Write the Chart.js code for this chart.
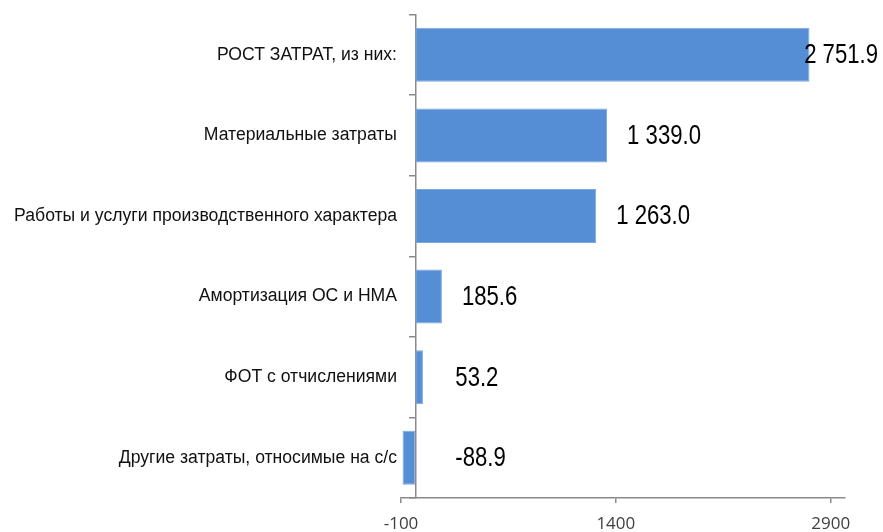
<!DOCTYPE html>
<html>
<head>
<meta charset="utf-8">
<script src="https://cdn.jsdelivr.net/npm/chart.js@4.4.1/dist/chart.umd.min.js"></script>
<style>
  html, body { margin: 0; padding: 0; background: #fff; }
  #wrap { width: 883px; height: 532px; }
</style>
</head>
<body>
<div id="wrap"><canvas id="costChart" width="883" height="532"></canvas></div>
<script>
// Data
const categories = [
  'РОСТ ЗАТРАТ, из них:',
  'Материальные затраты',
  'Работы и услуги производственного характера',
  'Амортизация ОС и НМА',
  'ФОТ с отчислениями',
  'Другие затраты, относимые на с/с'
];
const values = [2751.9, 1339.0, 1263.0, 185.6, 53.2, -88.9];
const xTicks = [-100, 1400, 2900];

const sans = "'Liberation Sans', Arial, sans-serif";
const axisGray = '#8a8a8a';

// "2 751.9" style
function fmt(v) {
  const s = Math.abs(v).toFixed(1).split('.');
  const int = s[0].replace(/\B(?=(\d{3})+(?!\d))/g, ' ');
  return (v < 0 ? '-' : '') + int + '.' + s[1];
}

// value labels to the right of bars (squeezed a bit, like a narrow font)
const valueLabels = {
  id: 'valueLabels',
  afterDatasetsDraw(chart) {
    const ctx = chart.ctx;
    const meta = chart.getDatasetMeta(0);
    const squeeze = 0.82;
    ctx.save();
    ctx.font = '27px ' + sans;
    ctx.fillStyle = '#000';
    ctx.textBaseline = 'middle';
    ctx.textAlign = 'left';
    meta.data.forEach((bar, i) => {
      const txt = fmt(values[i]);
      const w = ctx.measureText(txt).width * squeeze;
      let x = Math.max(Math.max(bar.x, bar.base) + 20, bar.base + 40);
      if (x + w > chart.width - 5) x = chart.width - 5 - w;
      ctx.save();
      ctx.translate(x, bar.y + 1);
      ctx.scale(squeeze, 1);
      ctx.fillText(txt, 0, 0);
      ctx.restore();
    });
    ctx.restore();
  }
};

new Chart(document.getElementById('costChart'), {
  type: 'bar',
  data: {
    labels: categories,
    datasets: [{
      data: values,
      backgroundColor: '#558ed5',
      borderColor: '#7aa7de',
      borderWidth: 1,
      borderSkipped: false,
      categoryPercentage: 1,
      barPercentage: 0.67
    }]
  },
  options: {
    indexAxis: 'y',
    responsive: false,
    animation: false,
    layout: { padding: { left: 0, right: 38, top: 13, bottom: 0 } },
    plugins: {
      legend: { display: false },
      tooltip: { enabled: false }
    },
    scales: {
      x: {
        min: -100,
        max: 3000,
        afterBuildTicks: s => { s.ticks = xTicks.map(v => ({ value: v })); },
        afterFit: s => { s.height = 34; },
        grid: { drawOnChartArea: false, tickLength: 5, color: axisGray, lineWidth: 1.5 },
        border: { color: axisGray, width: 1.5 },
        ticks: {
          padding: 11,
          color: '#404040',
          font: { family: "'Open Sans', sans-serif", size: 17 },
          maxRotation: 0,
          callback: v => String(v)
        }
      },
      y: {
        afterFit: s => { s.width = 401; },
        grid: { display: false, drawTicks: false },
        border: { display: false },
        ticks: {
          padding: 4,
          color: '#111',
          font: { family: sans, size: 17.6 }
        }
      },
      // axis line at zero with boundary tick marks
      yZero: {
        type: 'category',
        axis: 'y',
        position: { x: 0 },
        offset: true,
        grid: { drawOnChartArea: false, offset: true, tickLength: 6, color: axisGray, lineWidth: 1.5 },
        border: { color: axisGray, width: 1.5 },
        ticks: { display: false }
      }
    }
  },
  plugins: [valueLabels]
});
</script>
</body>
</html>
